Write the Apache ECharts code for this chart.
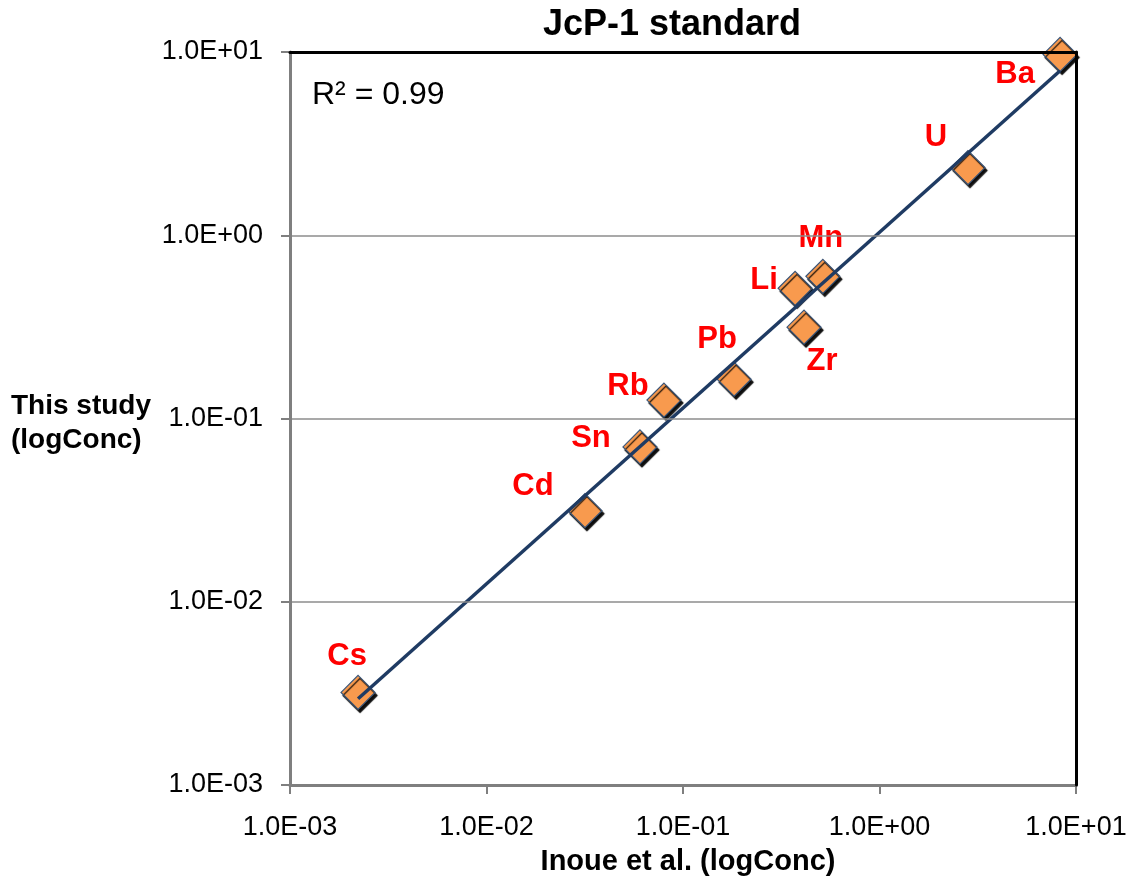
<!DOCTYPE html>
<html>
<head>
<meta charset="utf-8">
<script src="https://cdn.jsdelivr.net/npm/echarts@6/dist/echarts.min.js"></script>
<style>
  html, body { margin: 0; padding: 0; background: #ffffff; }
  #chart { width: 1136px; height: 881px; }
</style>
</head>
<body>
<div id="chart"></div>
<script>
// Element concentrations for the JcP-1 standard
const elements  = ['Cs', 'Cd', 'Sn', 'Rb', 'Pb', 'Li', 'Mn', 'Zr', 'U', 'Ba'];
const inoueConc = [0.00222, 0.0317, 0.0604, 0.080, 0.182, 0.372, 0.515, 0.413, 2.82, 8.3];
const studyConc = [0.0032, 0.0314, 0.070, 0.126, 0.164, 0.513, 0.597, 0.315, 2.34, 9.7];
const axisTicks = [0.001, 0.01, 0.1, 1, 10];

// Label placement (pixel offsets from each marker)
const labelOffsets = {
  Cs: [-11, -36], Cd: [-52, -24], Sn: [-49, -8], Rb: [-36, -14], Pb: [-17, -40],
  Li: [-31, -8], Mn: [-2, -38], Zr: [18, 34], U: [-32, -30], Ba: [-45, 20]
};

// Power-law trend: least squares on log10 values
const lx = inoueConc.map(Math.log10), ly = studyConc.map(Math.log10);
const n = lx.length;
const mx = lx.reduce((a, b) => a + b, 0) / n;
const my = ly.reduce((a, b) => a + b, 0) / n;
let sxy = 0, sxx = 0, syy = 0;
for (let i = 0; i < n; i++) {
  sxy += (lx[i] - mx) * (ly[i] - my);
  sxx += (lx[i] - mx) ** 2;
  syy += (ly[i] - my) ** 2;
}
const slope = sxy / sxx;
const icpt = my - slope * mx;
const r2 = (sxy * sxy) / (sxx * syy);
const xMin = Math.min(...inoueConc), xMax = Math.max(...inoueConc);
const trend = [xMin, xMax].map(x => [x, Math.pow(10, icpt + slope * Math.log10(x))]);

function sci(v) {
  const e = Math.round(Math.log10(v));
  const m = v / Math.pow(10, e);
  const es = (e < 0 ? '-' : '+') + String(Math.abs(e)).padStart(2, '0');
  return m.toFixed(1) + 'E' + es;
}

const FONT = "'Liberation Sans', Arial, sans-serif";
const lo = axisTicks[0], hi = axisTicks[axisTicks.length - 1];

// Plain black frame line for the top and right sides of the plot area
const frameAxis = {
  type: 'log', logBase: 10, min: lo, max: hi,
  axisLine: { show: true, onZero: false, lineStyle: { color: '#000', width: 3 } },
  axisTick: { show: false }, axisLabel: { show: false }, splitLine: { show: false }
};

const chart = echarts.init(document.getElementById('chart'));
chart.setOption({
  animation: false,
  backgroundColor: '#ffffff',
  title: {
    text: 'JcP-1 standard',
    left: 667, top: 2, textAlign: 'center',
    textStyle: { fontFamily: FONT, fontSize: 36, fontWeight: 'bold', color: '#000' }
  },
  grid: { left: 290, right: 60, top: 52, bottom: 94 },
  xAxis: [
    {
      type: 'log', logBase: 10, min: lo, max: hi,
      name: 'Inoue et al. (logConc)', nameLocation: 'middle', nameGap: 62,
      nameTextStyle: { fontFamily: FONT, fontSize: 29, fontWeight: 'bold', color: '#000', padding: [0, 0, 0, 10] },
      axisLine: { show: true, lineStyle: { color: '#7f7f7f', width: 3 } },
      axisTick: { show: true, inside: false, length: 9, lineStyle: { color: '#7f7f7f', width: 2 } },
      splitLine: { show: false },
      axisLabel: { margin: 29, fontFamily: FONT, fontSize: 27, color: '#000', formatter: v => sci(v) },
      z: 5
    },
    Object.assign({ position: 'top', z: 6 }, frameAxis)
  ],
  yAxis: [
    {
      type: 'log', logBase: 10, min: lo, max: hi,
      axisLine: { show: true, lineStyle: { color: '#7f7f7f', width: 3 } },
      axisTick: { show: true, inside: false, length: 9, lineStyle: { color: '#7f7f7f', width: 2 } },
      splitLine: { show: true, lineStyle: { color: '#8c8c8c', width: 1.5 } },
      axisLabel: { margin: 27, fontFamily: FONT, fontSize: 27, color: '#000', formatter: v => sci(v) },
      z: 5
    },
    Object.assign({ position: 'right', z: 6 }, frameAxis)
  ],
  graphic: [
    {
      type: 'text', left: 11, top: 389,
      style: {
        text: 'This study\n(logConc)', fontFamily: FONT, fontSize: 28, fontWeight: 'bold',
        fill: '#000', align: 'center', lineHeight: 34, x: 74
      }
    },
    {
      type: 'text', left: 312, top: 79, z: 20,
      style: { text: 'R\u00b2 = ' + r2.toFixed(2), fontFamily: FONT, fontSize: 32, fill: '#000' }
    }
  ],
  series: [
    {
      type: 'scatter',
      symbol: 'diamond',
      symbolSize: 34,
      z: 3,
      itemStyle: {
        color: '#f89a4e', opacity: 1, borderColor: '#3a5578', borderWidth: 1.2,
        shadowColor: 'rgba(0,0,0,0.95)', shadowBlur: 1, shadowOffsetX: 2, shadowOffsetY: 3
      },
      label: {
        show: true, position: 'inside', formatter: p => p.name,
        fontFamily: FONT, fontSize: 31, fontWeight: 'bold', color: '#ff0000'
      },
      data: elements.map((el, i) => ({
        name: el,
        value: [inoueConc[i], studyConc[i]],
        label: { offset: labelOffsets[el] }
      }))
    },
    {
      type: 'line',
      z: 4,
      showSymbol: false,
      silent: true,
      lineStyle: { color: '#1f3b63', width: 3.5 },
      data: trend
    }
  ]
});
</script>
</body>
</html>
